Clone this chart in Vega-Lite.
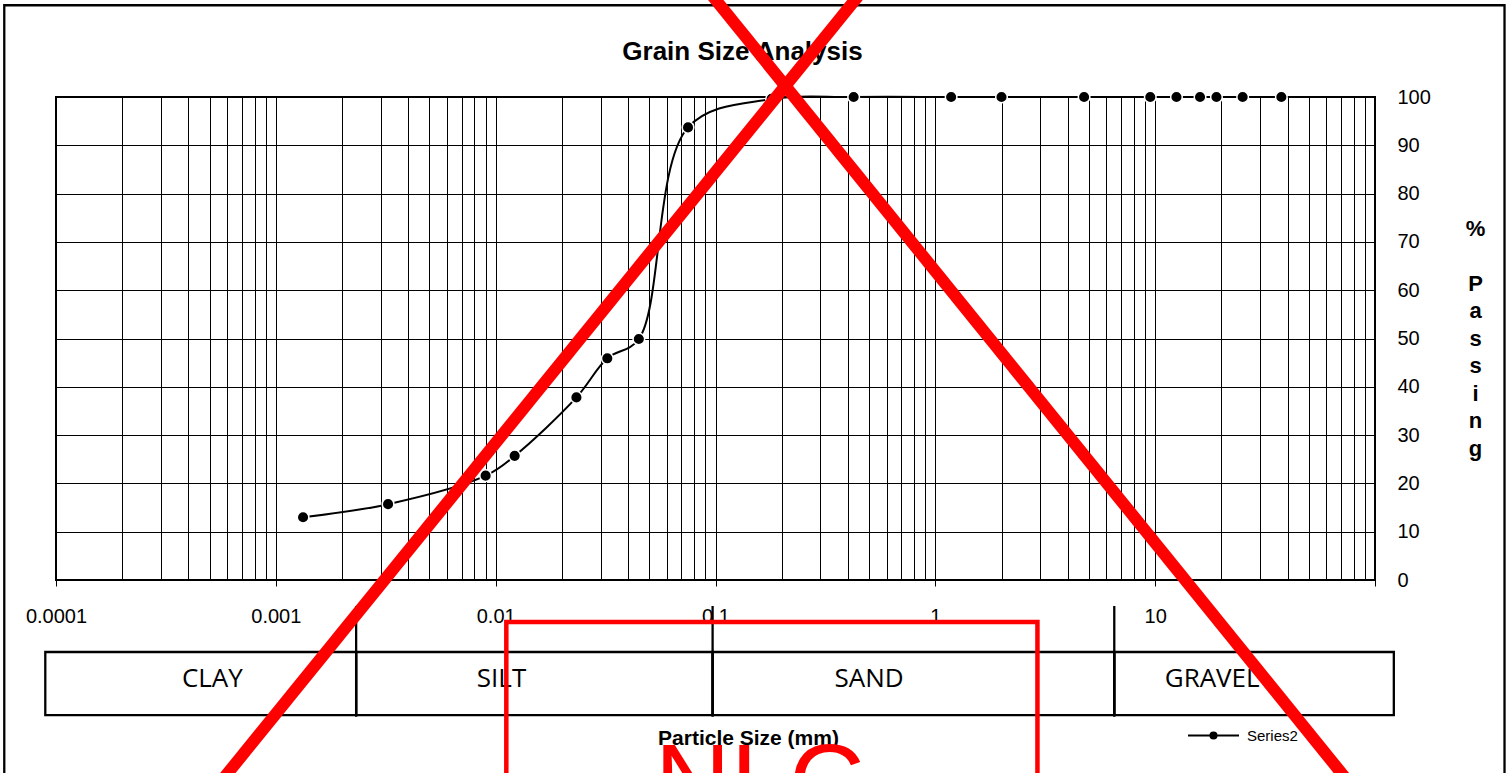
{
  "$schema": "https://vega.github.io/schema/vega-lite/v6.json",
  "width": 1319,
  "height": 483,
  "autosize": {"type": "none"},
  "padding": {"left": 56, "top": 97, "right": 134, "bottom": 193},
  "background": "white",
  "config": {"view": {"stroke": "black", "strokeWidth": 2}, "font": "Liberation Sans"},
  "resolve": {"axis": {"x": "independent", "y": "independent"}},
  "datasets": {
    "sieve": [
      {"size": 0.00133, "passing": 13.0, "series": "Series2"},
      {"size": 0.00324, "passing": 15.7, "series": "Series2"},
      {"size": 0.0090, "passing": 21.6, "series": "Series2"},
      {"size": 0.0122, "passing": 25.7, "series": "Series2"},
      {"size": 0.0233, "passing": 37.8, "series": "Series2"},
      {"size": 0.0322, "passing": 45.9, "series": "Series2"},
      {"size": 0.0448, "passing": 49.9, "series": "Series2"},
      {"size": 0.075, "passing": 93.7, "series": "Series2"},
      {"size": 0.18, "passing": 99.6, "series": "Series2"},
      {"size": 0.425, "passing": 100, "series": "Series2"},
      {"size": 1.18, "passing": 100, "series": "Series2"},
      {"size": 2.0, "passing": 100, "series": "Series2"},
      {"size": 4.75, "passing": 100, "series": "Series2"},
      {"size": 9.5, "passing": 100, "series": "Series2"},
      {"size": 12.5, "passing": 100, "series": "Series2"},
      {"size": 16, "passing": 100, "series": "Series2"},
      {"size": 19, "passing": 100, "series": "Series2"},
      {"size": 25, "passing": 100, "series": "Series2"},
      {"size": 37.5, "passing": 100, "series": "Series2"}
    ],
    "frame": [{"x1": 0.00005817, "x2": 388.3, "y1": 119.0, "y2": -45.55}],
    "classes": [
      {"soil": "CLAY", "from": 0.00008939, "to": 0.002319, "labelAt": 0.0005143},
      {"soil": "SILT", "from": 0.002319, "to": 0.09701, "labelAt": 0.01063},
      {"soil": "SAND", "from": 0.09701, "to": 6.516, "labelAt": 0.4996},
      {"soil": "GRAVEL", "from": 6.516, "to": 121.8, "labelAt": 18.17}
    ],
    "boundaries": [{"at": 0.002319}, {"at": 0.09701}, {"at": 6.516}],
    "cross": [
      {"id": 1, "x": 0.08475, "y": 124.2},
      {"id": 1, "x": 88.4, "y": -45.55},
      {"id": 2, "x": 0.5105, "y": 124.2},
      {"id": 2, "x": 0.000481, "y": -45.55}
    ],
    "stamp": [{"x1": 0.01118, "x2": 2.914, "y1": -8.70, "y2": -45.55}],
    "stampText": [{"x": 0.1592, "y": -49.28, "text": "NLC"}]
  },
  "layer": [
    {
      "data": {"name": "frame"},
      "mark": {"type": "rect", "filled": false, "stroke": "black", "strokeWidth": 2.3},
      "encoding": {
        "x": {
          "field": "x1", "type": "quantitative", "scale": {"type": "log", "domain": [0.0001, 100], "nice": false},
          "axis": {
            "orient": "top", "title": "Grain Size Analysis", "labels": false, "ticks": false, "grid": false, "domain": false,
            "titleFont": "Liberation Sans", "titleFontSize": 26, "titleFontWeight": "bold", "titleColor": "black",
            "titleX": 686, "titleY": -38, "titleBaseline": "alphabetic", "titleAlign": "center"
          }
        },
        "x2": {"field": "x2"},
        "y": {"field": "y1", "type": "quantitative", "scale": {"domain": [0, 100], "nice": false}, "axis": null},
        "y2": {"field": "y2"}
      }
    },
    {
      "data": {"name": "classes"},
      "mark": {"type": "rect", "filled": false, "stroke": "black", "strokeWidth": 2.3},
      "encoding": {
        "x": {"field": "from", "type": "quantitative", "scale": {"type": "log", "domain": [0.0001, 100], "nice": false}, "axis": null},
        "x2": {"field": "to"},
        "y": {"datum": -14.91, "type": "quantitative", "scale": {"domain": [0, 100], "nice": false}, "axis": null},
        "y2": {"datum": -27.99}
      }
    },
    {
      "data": {"name": "boundaries"},
      "mark": {"type": "rule", "color": "black", "strokeWidth": 2.3},
      "encoding": {
        "x": {"field": "at", "type": "quantitative", "scale": {"type": "log", "domain": [0.0001, 100], "nice": false}, "axis": null},
        "y": {"datum": -5.38, "type": "quantitative", "scale": {"domain": [0, 100], "nice": false}, "axis": null},
        "y2": {"datum": -28.3}
      }
    },
    {
      "data": {"name": "classes"},
      "mark": {"type": "text", "font": "Open Sans", "fontSize": 26, "color": "black", "align": "center", "baseline": "alphabetic"},
      "encoding": {
        "x": {"field": "labelAt", "type": "quantitative", "scale": {"type": "log", "domain": [0.0001, 100], "nice": false}, "axis": null},
        "y": {"datum": -22.09, "type": "quantitative", "scale": {"domain": [0, 100], "nice": false}, "axis": null},
        "text": {"field": "soil"}
      }
    },
    {
      "data": {"name": "sieve"},
      "mark": {"type": "line", "color": "black", "strokeWidth": 2, "interpolate": "catmull-rom"},
      "encoding": {
        "x": {
          "field": "size", "type": "quantitative",
          "scale": {"type": "log", "domain": [0.0001, 100], "nice": false},
          "axis": {
            "orient": "bottom",
            "title": "Particle Size (mm)",
            "values": [0.0001, 0.0002, 0.0003, 0.0004, 0.0005, 0.0006, 0.0007, 0.0008, 0.0009,
                       0.001, 0.002, 0.003, 0.004, 0.005, 0.006, 0.007, 0.008, 0.009,
                       0.01, 0.02, 0.03, 0.04, 0.05, 0.06, 0.07, 0.08, 0.09,
                       0.1, 0.2, 0.3, 0.4, 0.5, 0.6, 0.7, 0.8, 0.9,
                       1, 2, 3, 4, 5, 6, 7, 8, 9,
                       10, 20, 30, 40, 50, 60, 70, 80, 90, 100],
            "grid": true, "gridColor": "black", "gridWidth": 1, "gridOpacity": 1,
            "domain": false,
            "ticks": true, "tickSize": 6, "tickColor": "black", "tickWidth": 1,
            "tickOpacity": {"condition": {"test": "abs(log(datum.value)/LN10 - round(log(datum.value)/LN10)) < 0.001", "value": 1}, "value": 0},
            "labelExpr": "abs(log(datum.value)/LN10 - round(log(datum.value)/LN10)) < 0.001 && datum.value < 50 ? '' + datum.value : ''",
            "labelFont": "Liberation Sans", "labelFontSize": 20, "labelColor": "black", "labelPadding": 20,
            "labelOverlap": false, "labelFlush": false, "labelBound": false,
            "titleFont": "Liberation Sans", "titleFontSize": 21, "titleFontWeight": "bold", "titleColor": "black",
            "titleX": 692, "titleY": 164, "titleBaseline": "alphabetic", "titleAlign": "center"
          }
        },
        "y": {
          "field": "passing", "type": "quantitative",
          "scale": {"domain": [0, 100], "nice": false},
          "axis": {
            "orient": "right",
            "title": ["%", "\u200b", "P", "a", "s", "s", "i", "n", "g"],
            "values": [0, 10, 20, 30, 40, 50, 60, 70, 80, 90, 100],
            "grid": true, "gridColor": "black", "gridWidth": 1, "gridOpacity": 1,
            "domain": false, "ticks": false,
            "labelFont": "Liberation Sans", "labelFontSize": 20, "labelColor": "black", "labelPadding": 22,
            "labelOverlap": false, "labelFlush": false,
            "titleFont": "Liberation Sans", "titleFontSize": 22, "titleFontWeight": "bold", "titleColor": "black",
            "titleAngle": 0, "titleX": 100, "titleY": 131, "titleAlign": "center", "titleBaseline": "middle", "titleLineHeight": 27.5
          }
        },
        "color": {
          "field": "series", "type": "nominal",
          "scale": {"range": ["black"]},
          "legend": {
            "title": null, "orient": "none", "legendX": 1131, "legendY": 612,
            "symbolType": "M-1,0H1M0.12,0A0.12,0.12,0,1,1,-0.12,0A0.12,0.12,0,1,1,0.12,0Z",
            "symbolSize": 2601, "symbolStrokeWidth": 2,
            "labelFont": "Liberation Sans", "labelFontSize": 15, "labelColor": "black", "labelOffset": 7,
            "padding": 0,
            "encode": {"symbols": {"update": {"fill": {"value": "black"}, "stroke": {"value": "black"}, "opacity": {"value": 1}}}}
          }
        }
      }
    },
    {
      "data": {"name": "sieve"},
      "mark": {"type": "point", "shape": "circle", "filled": true, "size": 135, "fill": "black", "stroke": "white", "strokeWidth": 1.5, "opacity": 1},
      "encoding": {
        "x": {"field": "size", "type": "quantitative", "scale": {"type": "log", "domain": [0.0001, 100], "nice": false}, "axis": null},
        "y": {"field": "passing", "type": "quantitative", "scale": {"domain": [0, 100], "nice": false}, "axis": null}
      }
    },
    {
      "data": {"name": "cross"},
      "mark": {"type": "line", "color": "#ff0000", "strokeWidth": 12, "strokeCap": "butt"},
      "encoding": {
        "x": {"field": "x", "type": "quantitative", "scale": {"type": "log", "domain": [0.0001, 100], "nice": false}, "axis": null},
        "y": {"field": "y", "type": "quantitative", "scale": {"domain": [0, 100], "nice": false}, "axis": null},
        "detail": {"field": "id", "type": "nominal"}
      }
    },
    {
      "data": {"name": "stamp"},
      "mark": {"type": "rect", "filled": false, "stroke": "#ff0000", "strokeWidth": 4.5},
      "encoding": {
        "x": {"field": "x1", "type": "quantitative", "scale": {"type": "log", "domain": [0.0001, 100], "nice": false}, "axis": null},
        "x2": {"field": "x2"},
        "y": {"field": "y1", "type": "quantitative", "scale": {"domain": [0, 100], "nice": false}, "axis": null},
        "y2": {"field": "y2"}
      }
    },
    {
      "data": {"name": "stampText"},
      "mark": {"type": "text", "font": "Liberation Sans", "fontSize": 105, "color": "#ff0000", "align": "center", "baseline": "alphabetic"},
      "encoding": {
        "x": {"field": "x", "type": "quantitative", "scale": {"type": "log", "domain": [0.0001, 100], "nice": false}, "axis": null},
        "y": {"field": "y", "type": "quantitative", "scale": {"domain": [0, 100], "nice": false}, "axis": null},
        "text": {"field": "text"}
      }
    }
  ]
}
